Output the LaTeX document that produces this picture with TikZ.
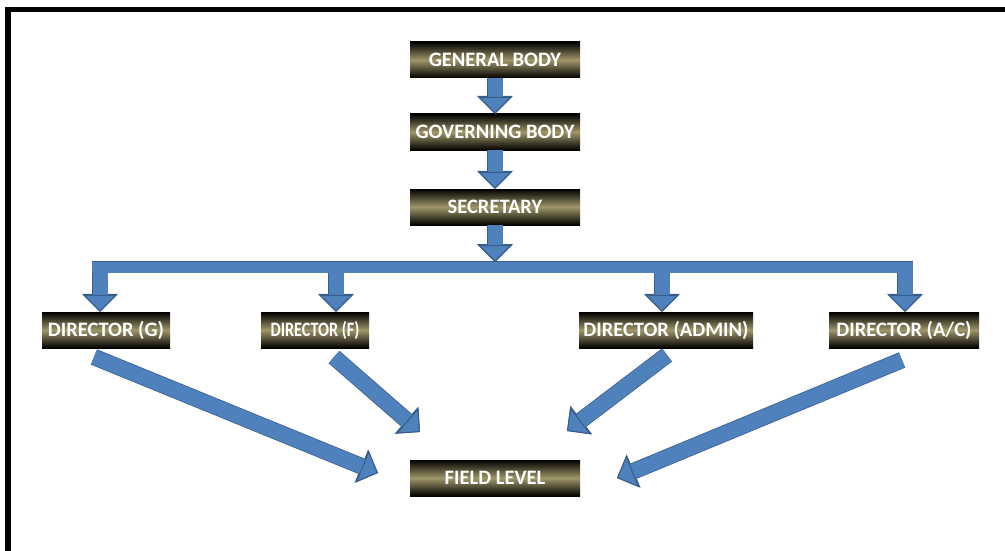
\documentclass[tikz,border=0pt]{standalone}
\usepackage{fontspec}
\setmainfont{Carlito}
\usetikzlibrary{arrows.meta}
\definecolor{arrowblue}{RGB}{79,129,189}
\definecolor{arrowedge}{RGB}{56,93,138}
\definecolor{boxmid}{RGB}{160,150,105}

\begin{document}
\begin{tikzpicture}[x=1pt, y=-1pt,
  box/.style={minimum height=36pt, inner sep=0pt, top color=black, bottom color=black, middle color=boxmid, text=white, font=\bfseries\fontsize{20.5}{20.5}\selectfont},
  blockarrow/.style={preaction={draw=arrowedge, line width=16.5pt, -{Triangle[width=36pt 0 0, length=18pt 0 0, color=arrowedge, fill=arrowedge, line width=1pt]}},
    draw=arrowblue, line width=15pt, -{Triangle[width=34pt 0 0, length=17pt 0 0, color=arrowedge, fill=arrowblue, line width=1pt]}},
  bar/.style={preaction={draw=arrowedge, line width=12.5pt}, draw=arrowblue, line width=11pt}]
\useasboundingbox (0,0) rectangle (1005,551);

% frame
\draw[line width=4.4pt] (5,9.5) -- (1005,9.5);
\draw[line width=5.5pt] (8,7.3) -- (8,551);

\draw
(495, 60) node[box, minimum width=170pt](gb){GENERAL BODY}
(495,132) node[box, minimum width=170pt](gov){GOVERNING BODY}
(495,207) node[box, minimum width=170pt](sec){SECRETARY}
(106,330) node[box, minimum width=128pt](dg){DIRECTOR (G)}
(315,330) node[box, minimum width=108pt](df){\scalebox{0.79}[1]{DIRECTOR (F)}}
(666,330) node[box, minimum width=174pt](dad){DIRECTOR (ADMIN)}
(904,330) node[box, minimum width=150pt](dac){DIRECTOR (A/C)}
(495,478) node[box, minimum width=170pt](fl){FIELD LEVEL};

% bar
\coordinate (bartop) at (495,262);
\coordinate (b1) at (100,267);
\coordinate (b2) at (336,267);
\coordinate (b3) at (662,267);
\coordinate (b4) at (905,267);

% ends of the slanted arrows
\coordinate (gs) at (94,357);
\coordinate (gt) at (378,473);
\coordinate (fs) at (334,357);
\coordinate (ft) at (420,432);
\coordinate (ads) at (667,355);
\coordinate (adt) at (567,431);
\coordinate (acs) at (902,360);
\coordinate (act) at (617,478);

\draw[blockarrow] (gb) -- (gov);
\draw[blockarrow] (gov) -- (sec);
\draw[blockarrow] (sec) -- (bartop);

\draw[blockarrow] (b1) -- (b1 |- dg.north);
\draw[blockarrow] (b2) -- (b2 |- df.north);
\draw[blockarrow] (b3) -- (b3 |- dad.north);
\draw[blockarrow] (b4) -- (b4 |- dac.north);
\draw[bar] ([xshift=-8pt]b1) -- ([xshift=8pt]b4);

\draw[blockarrow] (gs) -- (gt);
\draw[blockarrow] (fs) -- (ft);
\draw[blockarrow] (ads) -- (adt);
\draw[blockarrow] (acs) -- (act);

\end{tikzpicture}
\end{document}
